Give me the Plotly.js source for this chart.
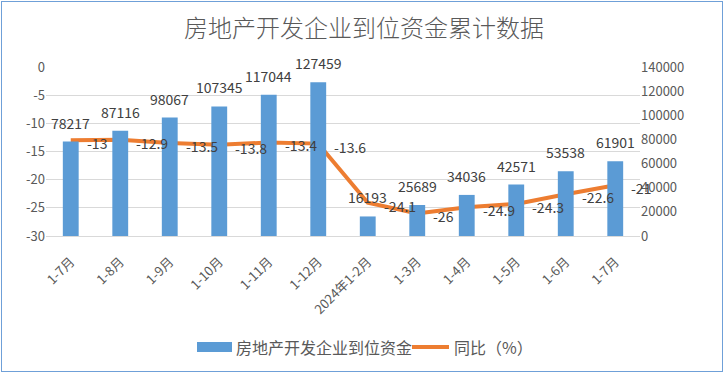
<!DOCTYPE html>
<html><head><meta charset="utf-8">
<script src="https://cdn.plot.ly/plotly-3.0.1.min.js"></script>
<style>
html,body{margin:0;padding:0;background:#fff;}
#chart{width:728px;height:376px;position:absolute;left:0;top:0;}
#frame{position:absolute;left:1px;top:1px;width:720px;height:369px;border:1px solid #6FA0D8;pointer-events:none;}
</style></head>
<body>
<div id="chart"></div><div id="frame"></div>
<script>
const categories = ['1-7月','1-8月','1-9月','1-10月','1-11月','1-12月','2024年1-2月','1-3月','1-4月','1-5月','1-6月','1-7月'];
const funds = [78217, 87116, 98067, 107345, 117044, 127459, 16193, 25689, 34036, 42571, 53538, 61901];
const yoy = [-13, -12.9, -13.5, -13.8, -13.4, -13.6, -24.1, -26, -24.9, -24.3, -22.6, -21];
const leftTicks = [0, -5, -10, -15, -20, -25, -30];
const rightTicks = [0, 20000, 40000, 60000, 80000, 100000, 120000, 140000];
const seriesNames = ['房地产开发企业到位资金', '同比（%）'];

const idx = categories.map((_, i) => i);
const font = "'Noto Sans CJK SC', 'Noto Sans', sans-serif";
const labelColor = '#404040';
const axisColor = '#595959';

const W = 728, H = 376, M = {l: 46, r: 88, t: 67, b: 140};
const pw = W - M.l - M.r, ph = H - M.t - M.b;
const px = x => (x - M.l) / pw;
const py = y => (H - M.b - y) / ph;

const traces = [
  {
    type: 'bar', name: seriesNames[0], x: idx, y: funds, yaxis: 'y2',
    marker: {color: '#5B9BD5'}, hoverinfo: 'skip'
  },
  {
    type: 'scatter', mode: 'lines', name: seriesNames[1], x: idx, y: yoy, yaxis: 'y',
    line: {color: '#ED7D31', width: 4}, hoverinfo: 'skip'
  }
];

const barLabels = funds.map((v, i) => ({
  x: idx[i], y: v, xref: 'x', yref: 'y2', text: String(v), showarrow: false,
  xanchor: 'center', yanchor: 'middle', yshift: 19,
  font: {size: 14, color: labelColor, family: font}
}));
const lineLabels = yoy.map((v, i) => ({
  x: idx[i], y: v, xref: 'x', yref: 'y', text: String(v), showarrow: false,
  xanchor: 'left', yanchor: 'middle', xshift: 14, yshift: -3,
  font: {size: 14, color: labelColor, family: font}
}));
const legendText = [
  {x: px(234), y: py(347), xref: 'paper', yref: 'paper', text: seriesNames[0], showarrow: false,
   xanchor: 'left', yanchor: 'middle', font: {size: 16, color: axisColor, family: font}},
  {x: px(452), y: py(347), xref: 'paper', yref: 'paper', text: seriesNames[1], showarrow: false,
   xanchor: 'left', yanchor: 'middle', font: {size: 16, color: axisColor, family: font}}
];
const legendShapes = [
  {type: 'rect', xref: 'paper', yref: 'paper', x0: px(197), x1: px(232), y0: py(352), y1: py(342),
   fillcolor: '#5B9BD5', line: {width: 0}},
  {type: 'line', xref: 'paper', yref: 'paper', x0: px(412), x1: px(449), y0: py(347), y1: py(347),
   line: {color: '#ED7D31', width: 4}}
];

const layout = {
  width: W, height: H, margin: M,
  paper_bgcolor: '#fff', plot_bgcolor: '#fff',
  font: {family: font, color: axisColor, size: 13},
  title: {text: '房地产开发企业到位资金累计数据', x: 0.5, xanchor: 'center', y: 0.925, yanchor: 'middle',
          font: {size: 24, color: axisColor, family: font, weight: 300}},
  showlegend: false,
  bargap: 0.68,
  annotations: barLabels.concat(lineLabels, legendText),
  shapes: legendShapes,
  xaxis: {
    tickmode: 'array', tickvals: idx, ticktext: categories, tickangle: -45,
    range: [-0.5, categories.length - 0.5], ticklabelstandoff: 12,
    showgrid: false, zeroline: false, showline: true, linecolor: '#D9D9D9',
    ticks: '', tickfont: {size: 13, color: axisColor}
  },
  yaxis: {
    range: [-30, 0], tickmode: 'array', tickvals: leftTicks, ticktext: leftTicks.map(String),
    showgrid: true, gridcolor: '#D9D9D9', zeroline: false, showline: false, ticks: '',
    tickfont: {size: 13, color: axisColor}
  },
  yaxis2: {
    overlaying: 'y', side: 'right',
    range: [0, 140000], tickmode: 'array', tickvals: rightTicks, ticktext: rightTicks.map(String),
    showgrid: false, zeroline: false, showline: false, ticks: '',
    tickfont: {size: 13, color: axisColor}
  }
};

Plotly.newPlot('chart', traces, layout, {displayModeBar: false, staticPlot: true});
</script>
</body></html>
